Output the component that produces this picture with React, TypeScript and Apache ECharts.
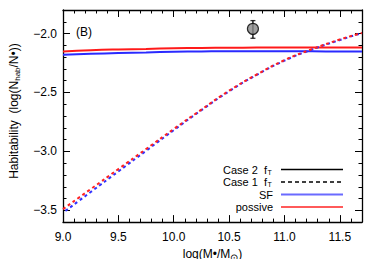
import React, { useEffect, useRef } from "react";
import * as echarts from "echarts";

const massGrid = [9.0, 9.25, 9.5, 9.75, 10.0, 10.25, 10.5, 10.75, 11.0, 11.25, 11.5, 11.7];
const case1SF = [-3.52, -3.345, -3.17, -2.995, -2.82, -2.65, -2.49, -2.35, -2.23, -2.135, -2.055, -1.995];
const case1Passive = [-3.49, -3.32, -3.15, -2.98, -2.81, -2.645, -2.485, -2.347, -2.225, -2.132, -2.05, -1.995];
const case2SF = [-2.18, -2.172, -2.165, -2.16, -2.155, -2.152, -2.15, -2.15, -2.15, -2.151, -2.152, -2.152];
const case2Passive = [-2.152, -2.142, -2.135, -2.13, -2.125, -2.122, -2.12, -2.119, -2.118, -2.118, -2.118, -2.118];
const obsPoint = [10.715, -1.96];
const obsErr = [-1.89, -2.04];
const xMajorTicks = [9.0, 9.5, 10.0, 10.5, 11.0, 11.5];
const yMajorTicks = [-3.5, -3.0, -2.5, -2.0];
const legendLabels = ["Case 2  f", "Case 1  f", "SF", "possive"];

const FONT = "Liberation Sans";

export default function App() {
  const ref = useRef<HTMLDivElement>(null);
  useEffect(() => {
    if (!ref.current) return;
    const chart = echarts.init(ref.current, undefined, { renderer: "svg" });
    const pts = (ys: number[]) => massGrid.map((x, i) => [x, ys[i]]);
    const X_MIN = 9.0, X_MAX = 11.7, Y_MIN = -3.6, Y_MAX = -1.8;
    const majorAxis = (min: number, max: number, ticks: number[], position: string, labels: boolean, fmt?: any) => ({
      type: "value",
      min,
      max,
      position,
      axisLine: { show: true, onZero: false, lineStyle: { color: "#000", width: 1.3 } },
      axisTick: { show: true, inside: true, length: 7, customValues: ticks, lineStyle: { color: "#000", width: 1 } },
      axisLabel: labels
        ? { show: true, customValues: ticks, color: "#000", fontFamily: FONT, fontSize: 12, formatter: fmt }
        : { show: false },
      splitLine: { show: false },
    });
    const minorAxis = (min: number, max: number, position: string) => ({
      type: "value",
      min,
      max,
      interval: 0.1,
      position,
      axisLine: { show: false, onZero: false },
      axisTick: { show: true, inside: true, length: 3.5, lineStyle: { color: "#000", width: 1 } },
      axisLabel: { show: false },
      splitLine: { show: false },
    });
    const yFmt = (v: number) => "\u2212" + Math.abs(v).toFixed(1);
    const xFmt = (v: number) => v.toFixed(1);

    const legendY = [169.5, 182, 194.5, 207];
    const graphics: any[] = [
      {
        type: "text",
        x: 76,
        y: 32,
        style: { text: "(B)", font: `12px ${FONT}`, fill: "#000", verticalAlign: "middle" },
      },
    ];
    const legendStyles = [
      { stroke: "#000", lineDash: null },
      { stroke: "#000", lineDash: [4, 3] },
      { stroke: "#6a6aff", lineDash: null },
      { stroke: "#ff5a5a", lineDash: null },
    ];
    legendLabels.forEach((lab, i) => {
      const hasSub = i < 2;
      graphics.push({
        type: "text",
        x: hasSub ? 267 : 273,
        y: legendY[i],
        style: {
          text: lab,
          font: `11px ${FONT}`,
          lineHeight: 11,
          fill: "#000",
          align: "right",
          verticalAlign: "middle",
        },
      });
      if (hasSub) {
        graphics.push({
          type: "text",
          x: 267.5,
          y: legendY[i] + 2.5,
          style: {
            text: "T",
            font: `7px ${FONT}`,
            lineHeight: 6,
            fill: "#000",
            align: "left",
            verticalAlign: "middle",
          },
        });
      }
      graphics.push({
        type: "line",
        shape: { x1: 281, y1: legendY[i], x2: 343, y2: legendY[i] },
        style: { stroke: legendStyles[i].stroke, lineWidth: i < 2 ? 1.3 : 2, lineDash: legendStyles[i].lineDash },
      });
    });

    const xMain: any = majorAxis(X_MIN, X_MAX, xMajorTicks, "bottom", true, xFmt);
    xMain.axisLabel.margin = 9;
    xMain.name = "log(M\u2022/M{sub|\u2299})";
    xMain.nameLocation = "middle";
    xMain.nameGap = 23;
    xMain.nameTextStyle = {
      color: "#000",
      fontFamily: FONT,
      fontSize: 12,
      rich: { sub: { fontFamily: FONT, fontSize: 10, padding: [6, 0, 0, 0] } },
    };
    const yMain: any = majorAxis(Y_MIN, Y_MAX, yMajorTicks, "left", true, yFmt);
    yMain.axisLabel.margin = 6;
    yMain.name = "Habitability  (log(N{sub|hab}/N\u2022))";
    yMain.nameLocation = "middle";
    yMain.nameRotate = 90;
    yMain.nameGap = 42;
    yMain.nameTextStyle = {
      color: "#000",
      fontFamily: FONT,
      fontSize: 12,
      padding: [0, 0, 0, 10],
      rich: { sub: { fontFamily: FONT, fontSize: 8, padding: [6, 0, 0, 0] } },
    };

    chart.setOption({
      animation: false,
      grid: { left: 57, right: 12, top: 10, bottom: 40, containLabel: false },
      xAxis: [
        xMain,
        majorAxis(X_MIN, X_MAX, xMajorTicks, "top", false),
        minorAxis(X_MIN, X_MAX, "bottom"),
        minorAxis(X_MIN, X_MAX, "top"),
      ],
      yAxis: [
        yMain,
        majorAxis(Y_MIN, Y_MAX, yMajorTicks, "right", false),
        minorAxis(Y_MIN, Y_MAX, "left"),
        minorAxis(Y_MIN, Y_MAX, "right"),
      ],
      graphic: graphics,
      series: [
        {
          type: "line",
          data: pts(case2SF),
          smooth: true,
          showSymbol: false,
          lineStyle: { color: "#2a2aff", width: 2 },
        },
        {
          type: "line",
          data: pts(case2Passive),
          smooth: true,
          showSymbol: false,
          lineStyle: { color: "#ff1a1a", width: 2 },
        },
        {
          type: "line",
          data: pts(case1SF),
          smooth: true,
          showSymbol: false,
          lineStyle: { color: "#3030ff", width: 2, type: [3, 3], dashOffset: 3 },
        },
        {
          type: "line",
          data: pts(case1Passive),
          smooth: true,
          showSymbol: false,
          lineStyle: { color: "#ff2020", width: 2, type: [3, 3], dashOffset: 0 },
        },
        {
          type: "line",
          data: [
            [obsPoint[0], obsErr[0]],
            [obsPoint[0], obsErr[1]],
          ],
          showSymbol: false,
          lineStyle: { color: "#000", width: 1.3 },
        },
        {
          type: "scatter",
          data: [
            [obsPoint[0], obsErr[0]],
            [obsPoint[0], obsErr[1]],
          ],
          symbol: "rect",
          symbolSize: [5, 1.3],
          itemStyle: { color: "#000" },
        },
        {
          type: "scatter",
          data: [obsPoint],
          symbolSize: 11,
          itemStyle: { color: "#888", borderColor: "#000", borderWidth: 1.2 },
          z: 5,
        },
      ],
    });
    return () => chart.dispose();
  }, []);
  return <div ref={ref} style={{ width: 374, height: 267, margin: -8 }} />;
}
